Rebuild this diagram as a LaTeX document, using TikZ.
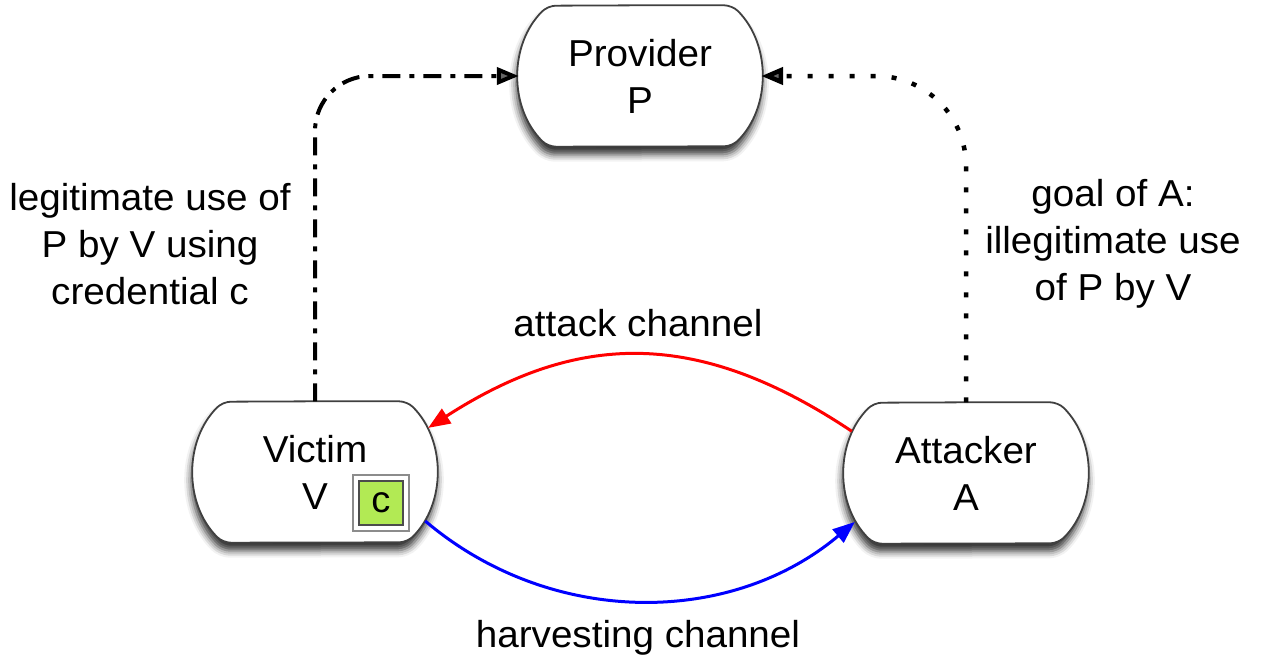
\documentclass[tikz,border=0pt]{standalone}
\usepackage{fontspec}
\setmainfont{Liberation Sans}[FakeStretch=1.03]
\usetikzlibrary{arrows.meta,shadows.blur,backgrounds}
\definecolor{cgreen}{RGB}{178,234,84}
\tikzset{
  party/.style={rectangle, draw=none, minimum width=242pt, minimum height=141pt, align=center,
    font=\fontsize{37.5}{47}\selectfont},
  pline/.style={draw=black!75, line width=1.8pt, fill=white, rounded corners=8pt,
    blur shadow={shadow xshift=-1pt, shadow yshift=-8pt, shadow blur radius=7pt, shadow opacity=80}},
  lbl/.style={align=center, font=\fontsize{37.5}{47}\selectfont},
  tip/.style={-{Triangle[length=22pt,width=17pt]}},
  dashdot/.style={tip, line width=4pt, dash pattern=on 18pt off 9pt on 5pt off 9pt},
  dotline/.style={tip, line width=4.5pt, dash pattern=on 5pt off 16pt},
  chan/.style={tip, line width=3pt}
}
\newcommand\pshape[1]{%
  \draw[pline] (#1.north) -- ([xshift=-29pt]#1.north east)
    arc[start angle=45, end angle=-45, radius=99.7pt]
    -- ([xshift=29pt]#1.south west)
    arc[start angle=225, end angle=135, radius=99.7pt] -- cycle;}
\begin{document}
\begin{tikzpicture}[x=1pt,y=1pt]
\useasboundingbox (0,0) rectangle (1262,-665);
\node[party] (prov) at (640,-76) {Provider\\P};
\node[party] (vic) at (315,-472) {Victim\\V};
\node[party] (att) at (966,-473) {Attacker\\A};
\begin{pgfonlayer}{background}
\pshape{prov}
\pshape{vic}
\pshape{att}
\end{pgfonlayer}
\node[draw=black!45, fill=white, line width=1.5pt, minimum size=56pt, inner sep=0pt] (cframe) at (381,-503) {};
\node[draw=black!70, fill=cgreen, line width=1.2pt, minimum size=44pt, inner sep=0pt, font=\fontsize{37}{40}\selectfont] (cbox) at (cframe.center) {c};
\node[lbl] (lleg) at (150,-244) {legitimate use of\\P by V using\\credential c};
\node[lbl] (rgoal) at (1113,-244) {goal of A:\\illegitimate use\\of P by V};
\node[lbl] (atk) at (638,-323) {attack channel};
\node[lbl] (harv) at (638,-638) {harvesting channel};
\draw[dashdot, rounded corners=55pt] (vic.north) |- (prov.west);
\draw[dotline, rounded corners=90pt] (att.north) |- (prov.east);
\draw[chan, red] ([xshift=7pt]att.161) .. controls (700,-330) and (580,-330) .. ([xshift=-8pt]vic.20);
\draw[chan, blue] ([xshift=-11pt]vic.-22) .. controls (550,-627) and (730,-627) .. ([xshift=10pt]att.202);
\end{tikzpicture}
\end{document}
